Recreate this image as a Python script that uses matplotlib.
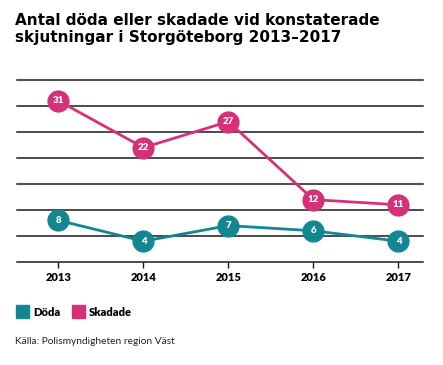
import numpy as np
import matplotlib.pyplot as plt
from matplotlib.patches import Rectangle

# data
years = ['2013', '2014', '2015', '2016', '2017']
doda = [8, 4, 7, 6, 4]
skadade = [31, 22, 27, 12, 11]

teal = '#138791'
pink = '#d63176'

plt.rcParams['font.family'] = ['Lato', 'DejaVu Sans']

fig = plt.figure(figsize=(4.43, 3.65), dpi=100)
ax = fig.add_axes([0.038, 0.2822, 0.917, 0.4986])

x = np.arange(len(years))

# gridlines every 5
for v in range(0, 40, 5):
    ax.axhline(v, color='#1a1a1a', lw=1.1, zorder=1, clip_on=False)

for vals, col in [(skadade, pink), (doda, teal)]:
    ax.plot(x, vals, color=col, lw=2, zorder=3, marker='o', markersize=15,
            markerfacecolor=col, markeredgecolor=col)
    for xi, v in zip(x, vals):
        ax.text(xi, v, str(v), color='white', fontsize=7, fontweight='heavy',
                ha='center', va='center', zorder=4)

ax.set_xlim(-0.49, 4.29)
ax.set_ylim(0, 35)
ax.set_xticks(x)
ax.set_xticklabels(years, fontsize=8, fontweight='heavy')
ax.set_yticks([])
ax.tick_params(axis='x', length=4, width=1, color='#1a1a1a', pad=3)
for s in ax.spines.values():
    s.set_visible(False)

fig.text(0.034, 0.965, 'Antal döda eller skadade vid konstaterade\nskjutningar i Storgöteborg 2013–2017',
         fontsize=11, fontweight='bold', family='DejaVu Sans', ha='left', va='top',
         linespacing=1.2)

# legend
fig.patches.append(Rectangle((16 / 443, 1 - 318 / 365), 13 / 443, 13 / 365,
                             transform=fig.transFigure, color=teal))
fig.text(33 / 443, 1 - 312 / 365, 'Döda', fontsize=8, fontweight='heavy', va='center')
fig.patches.append(Rectangle((72 / 443, 1 - 318 / 365), 13 / 443, 13 / 365,
                             transform=fig.transFigure, color=pink))
fig.text(89 / 443, 1 - 312 / 365, 'Skadade', fontsize=8, fontweight='heavy', va='center')

fig.text(15 / 443, 1 - 341 / 365, 'Källa: Polismyndigheten region Väst', fontsize=7.3,
         va='center', color='#222222')

fig.savefig('out.png', dpi=100)
